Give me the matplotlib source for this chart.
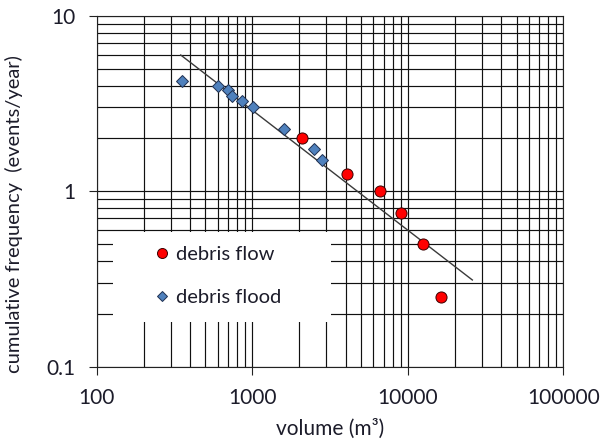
import matplotlib
matplotlib.use("Agg")
import matplotlib.pyplot as plt
from matplotlib.patches import Rectangle

plt.rcParams['font.family'] = ['Lato', 'DejaVu Sans']

# Debris-flood events: volume (m3) and cumulative frequency (events/year)
flood_volume = [352, 600, 702, 740, 856, 1016, 1600, 2500, 2810]
flood_freq = [4.25, 4.0, 3.75, 3.5, 3.25, 3.0, 2.25, 1.75, 1.5]

# Debris-flow events
flow_volume = [2100, 4040, 6640, 9060, 12600, 16400]
flow_freq = [2.0, 1.25, 1.0, 0.75, 0.5, 0.25]

# Power-law trend line end points
trend_volume = [347, 26000]
trend_freq = [5.97, 0.312]

x_ticks = [100, 1000, 10000, 100000]
x_tick_labels = ["100", "1000", "10000", "100000"]
y_ticks = [0.1, 1, 10]
y_tick_labels = ["0.1", "1", "10"]

text_color = '#1c1c2a'

fig = plt.figure(figsize=(6.10, 4.41), dpi=100)
ax = fig.add_axes([0.1585, 0.1685, 0.765, 0.7959])
ax.set_xscale('log')
ax.set_yscale('log')
ax.set_xlim(100, 100000)
ax.set_ylim(0.1, 10)

# gridlines on every major and minor decade step
ax.set_axisbelow(True)
ax.grid(True, which='both', color='#111111', linewidth=0.85)

ax.set_xticks(x_ticks)
ax.set_xticklabels(x_tick_labels)
ax.set_yticks(y_ticks)
ax.set_yticklabels(y_tick_labels)
ax.tick_params(which='major', direction='out', length=5.5, width=0.8,
               color='#222222', labelsize=15, labelcolor=text_color, pad=10)
ax.tick_params(which='minor', length=0)
for sp in ax.spines.values():
    sp.set_color('#222222')
    sp.set_linewidth(0.8)

# white legend panel sitting over the grid
ax.add_patch(Rectangle((0.035, 0.1274), 0.467, 0.2576, transform=ax.transAxes,
                       facecolor='white', edgecolor='none', zorder=1))

ax.plot(trend_volume, trend_freq, color='#3a3a3a', linewidth=1.0, zorder=3)

ax.plot(flow_volume, flow_freq, linestyle='none', marker='o', markersize=8,
        markerfacecolor='#ff0000', markeredgecolor='#3a0000',
        markeredgewidth=0.7, label='debris flow', zorder=4)
ax.plot(flood_volume, flood_freq, linestyle='none', marker='D', markersize=5.8,
        markerfacecolor='#4f81bd', markeredgecolor='#1f3050',
        markeredgewidth=0.7, label='debris flood', zorder=4)

ax.legend(loc='center left', bbox_to_anchor=(0.12, 0.2584), frameon=False,
          fontsize=14.5, handlelength=0.9, handletextpad=0.25, labelspacing=1.3,
          borderpad=0, borderaxespad=0, numpoints=1, markerscale=0.9,
          labelcolor=text_color)

ax.set_xlabel('volume (m³)', fontsize=15, color=text_color)
ax.xaxis.set_label_coords(0.5, -0.148)
ax.set_ylabel('cumulative frequency  (events/year)', fontsize=14.5, color=text_color)
ax.yaxis.set_label_coords(-0.158, 0.435)

fig.savefig('out.png', dpi=100)
